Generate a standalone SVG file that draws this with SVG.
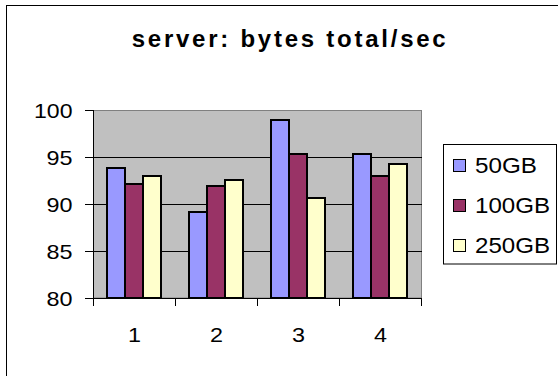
<svg xmlns="http://www.w3.org/2000/svg" width="558" height="376" viewBox="0 0 558 376">
<style>
text{font-family:"Liberation Sans",Arial,sans-serif;fill:#000}
.t{font-size:24px;font-weight:bold}
.lab{font-size:21px}
.leg{font-size:22px}
.bar{stroke:#000;stroke-width:2}
.s1{fill:#9999FF}.s2{fill:#993366}.s3{fill:#FFFFCC}
.grid{stroke:#000;stroke-width:1}
.tick{stroke:#000;stroke-width:1}
</style>
<rect x="0" y="0" width="558" height="376" fill="#fff"/>
<rect id="frame" x="6.5" y="5.5" width="600" height="400" fill="#fff" stroke="#000" stroke-width="1"/>
<g id="title"><text class="t" x="131.7" y="47" textLength="314" lengthAdjust="spacing">server: bytes total/sec</text></g>
<g id="plot">
<rect x="93.5" y="110.5" width="328" height="187.5" fill="#C0C0C0" stroke="#808080" stroke-width="1"/>
<line class="grid" x1="93" y1="157.5" x2="422" y2="157.5"/>
<line class="grid" x1="93" y1="204.5" x2="422" y2="204.5"/>
<line class="grid" x1="93" y1="251.5" x2="422" y2="251.5"/>
</g>
<g id="bars">
<rect class="bar s1" x="107" y="168" width="18" height="130"/>
<rect class="bar s2" x="125" y="184" width="18" height="114"/>
<rect class="bar s3" x="143" y="176" width="18" height="122"/>
<rect class="bar s1" x="189" y="212" width="18" height="86"/>
<rect class="bar s2" x="207" y="186" width="18" height="112"/>
<rect class="bar s3" x="225" y="180" width="18" height="118"/>
<rect class="bar s1" x="271" y="120" width="18" height="178"/>
<rect class="bar s2" x="289" y="154" width="18" height="144"/>
<rect class="bar s3" x="307" y="198" width="18" height="100"/>
<rect class="bar s1" x="353" y="154" width="18" height="144"/>
<rect class="bar s2" x="371" y="176" width="18" height="122"/>
<rect class="bar s3" x="389" y="164" width="18" height="134"/>
</g>
<g id="axes">
<line class="tick" x1="93.5" y1="110" x2="93.5" y2="298"/>
<line class="tick" x1="85" y1="298.5" x2="422" y2="298.5"/>
<line class="tick" x1="85" y1="110.5" x2="93" y2="110.5"/>
<line class="tick" x1="85" y1="157.5" x2="93" y2="157.5"/>
<line class="tick" x1="85" y1="204.5" x2="93" y2="204.5"/>
<line class="tick" x1="85" y1="251.5" x2="93" y2="251.5"/>
<line class="tick" x1="93.5" y1="298" x2="93.5" y2="306"/>
<line class="tick" x1="175.5" y1="298" x2="175.5" y2="306"/>
<line class="tick" x1="257.5" y1="298" x2="257.5" y2="306"/>
<line class="tick" x1="339.5" y1="298" x2="339.5" y2="306"/>
<line class="tick" x1="421.5" y1="298" x2="421.5" y2="306"/>
<text class="lab" x="34" y="117.5" textLength="38.5" lengthAdjust="spacingAndGlyphs">100</text>
<text class="lab" x="46.5" y="164.5" textLength="26" lengthAdjust="spacingAndGlyphs">95</text>
<text class="lab" x="46.5" y="211.5" textLength="26" lengthAdjust="spacingAndGlyphs">90</text>
<text class="lab" x="46.5" y="258.5" textLength="26" lengthAdjust="spacingAndGlyphs">85</text>
<text class="lab" x="46.5" y="305.5" textLength="26" lengthAdjust="spacingAndGlyphs">80</text>
<text class="lab" x="128" y="342" textLength="13" lengthAdjust="spacingAndGlyphs">1</text>
<text class="lab" x="210" y="342" textLength="13" lengthAdjust="spacingAndGlyphs">2</text>
<text class="lab" x="292" y="342" textLength="13" lengthAdjust="spacingAndGlyphs">3</text>
<text class="lab" x="374" y="342" textLength="13" lengthAdjust="spacingAndGlyphs">4</text>
</g>
<g id="legend">
<rect x="443.5" y="144.5" width="113" height="119.5" fill="#fff" stroke="#000" stroke-width="1"/>
<rect class="s1" x="453.5" y="159.5" width="12" height="12" stroke="#000" stroke-width="1"/>
<rect class="s2" x="453.5" y="199.5" width="12" height="12" stroke="#000" stroke-width="1"/>
<rect class="s3" x="453.5" y="239.5" width="12" height="12" stroke="#000" stroke-width="1"/>
<text class="leg" x="475" y="172.5" textLength="62" lengthAdjust="spacingAndGlyphs">50GB</text>
<text class="leg" x="475" y="212.5" textLength="75" lengthAdjust="spacingAndGlyphs">100GB</text>
<text class="leg" x="475" y="252.5" textLength="75" lengthAdjust="spacingAndGlyphs">250GB</text>
</g>
</svg>
